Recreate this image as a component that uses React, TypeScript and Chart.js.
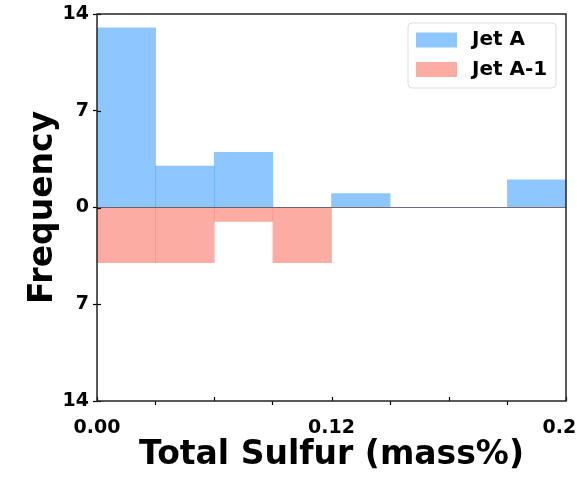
import React, { useEffect, useRef } from "react";
import { Chart, registerables } from "chart.js";

Chart.register(...registerables);

// Histogram bins (total sulfur, mass%)
const binCenters = [0.015, 0.045, 0.075, 0.105, 0.135, 0.165, 0.195, 0.225];
const jetA = [13, 3, 4, 0, 1, 0, 0, 2];
const jetA1 = [4, 4, 1, 4, 0, 0, 0, 0];
const seriesLabels = ["Jet A", "Jet A-1"];
const xTickValues = [0, 0.06, 0.12, 0.18, 0.24];
const xTickLabels = ["0.00", "", "0.12", "", "0.24"];
const yTickValues = [-14, -7, 0, 7, 14];

const BLUE = "rgba(30,144,255,0.5)";
const SALMON = "rgba(250,128,114,0.65)";
const FONT = "'DejaVu Sans', sans-serif";

const framePlugin = {
  id: "frame",
  afterDraw(chart: any) {
    const { ctx, chartArea } = chart;
    const { left, right, top, bottom } = chartArea;
    ctx.save();
    // inner tick marks
    ctx.strokeStyle = "#000";
    ctx.lineWidth = 1.2;
    const xs = chart.scales.x;
    xs.ticks.forEach((t: any) => {
      const px = Math.round(xs.getPixelForValue(t.value)) + 0.5;
      ctx.beginPath();
      ctx.moveTo(px, bottom);
      ctx.lineTo(px, bottom - 4);
      ctx.stroke();
    });
    const ys = chart.scales.y;
    ys.ticks.forEach((t: any) => {
      const py = Math.round(ys.getPixelForValue(t.value)) + 0.5;
      ctx.beginPath();
      ctx.moveTo(left, py);
      ctx.lineTo(left + 4, py);
      ctx.stroke();
    });
    // frame
    ctx.strokeStyle = "#222";
    ctx.lineWidth = 1.5;
    ctx.strokeRect(left, top, right - left, bottom - top);

    // legend
    const bx = right - 158;
    const by = top + 9;
    const bw = 148;
    const bh = 65;
    const r = 4;
    ctx.beginPath();
    ctx.moveTo(bx + r, by);
    ctx.lineTo(bx + bw - r, by);
    ctx.quadraticCurveTo(bx + bw, by, bx + bw, by + r);
    ctx.lineTo(bx + bw, by + bh - r);
    ctx.quadraticCurveTo(bx + bw, by + bh, bx + bw - r, by + bh);
    ctx.lineTo(bx + r, by + bh);
    ctx.quadraticCurveTo(bx, by + bh, bx, by + bh - r);
    ctx.lineTo(bx, by + r);
    ctx.quadraticCurveTo(bx, by, bx + r, by);
    ctx.closePath();
    ctx.fillStyle = "rgba(255,255,255,0.8)";
    ctx.fill();
    ctx.strokeStyle = "#dddddd";
    ctx.lineWidth = 1;
    ctx.stroke();
    ctx.font = `bold 20px ${FONT}`;
    ctx.textBaseline = "middle";
    ctx.textAlign = "left";
    chart.data.datasets.forEach((ds: any, i: number) => {
      const cy = by + 17 + i * 29.5;
      ctx.fillStyle = ds.backgroundColor;
      ctx.fillRect(bx + 8, cy - 7.5, 41, 15);
      ctx.fillStyle = "#000";
      ctx.fillText(ds.label, bx + 64, cy);
    });
    ctx.restore();
  },
};

export default function App() {
  const ref = useRef<HTMLCanvasElement>(null);
  useEffect(() => {
    document.body.style.margin = "0";
    const canvas = ref.current!;
    const chart = new Chart(canvas, {
      type: "bar",
      data: {
        datasets: [
          {
            label: seriesLabels[0],
            data: binCenters.map((x, i) => ({ x, y: jetA[i] })),
            backgroundColor: BLUE,
            borderWidth: 0,
            grouped: false,
            barPercentage: 1,
            categoryPercentage: 1,
          },
          {
            label: seriesLabels[1],
            data: binCenters.map((x, i) => ({ x, y: -jetA1[i] })),
            backgroundColor: SALMON,
            borderWidth: 0,
            grouped: false,
            barPercentage: 1,
            categoryPercentage: 1,
          },
        ] as any,
      },
      options: {
        responsive: false,
        animation: false,
        devicePixelRatio: 1,
        layout: { padding: { top: 14, right: 11, left: 0, bottom: 0 }, autoPadding: false } as any,
        plugins: { legend: { display: false }, tooltip: { enabled: false } },
        scales: {
          x: {
            type: "linear",
            min: 0,
            max: 0.24,
            offset: false,
            afterFit: (s: any) => {
              s.height = 76;
              s.paddingLeft = 0;
              s.paddingRight = 0;
            },
            afterBuildTicks: (s: any) => {
              s.ticks = xTickValues.map((v) => ({ value: v }));
            },
            ticks: {
              autoSkip: false,
              maxRotation: 0,
              padding: 12,
              color: "#000",
              font: { family: FONT, size: 19, weight: "bold" },
              callback: (_v: any, i: number) => xTickLabels[i],
            },
            grid: { display: true, drawOnChartArea: false, tickLength: 4, tickColor: "#000", tickWidth: 1.2 },
            border: { display: false },
            title: {
              display: true,
              text: "Total Sulfur (mass%)",
              color: "#000",
              font: { family: FONT, size: 33, weight: "bold" },
              padding: { top: 0, bottom: 2 },
            },
          },
          y: {
            type: "linear",
            min: -14,
            max: 14,
            afterFit: (s: any) => {
              s.width = 97;
              s.paddingTop = 0;
              s.paddingBottom = 0;
            },
            afterBuildTicks: (s: any) => {
              s.ticks = yTickValues.map((v) => ({ value: v }));
            },
            ticks: {
              padding: 4,
              color: "#000",
              font: { family: FONT, size: 19, weight: "bold" },
              callback: (v: any) => String(Math.abs(Number(v))),
            },
            grid: {
              display: true,
              drawOnChartArea: true,
              tickLength: 4,
              tickColor: "#000",
              tickWidth: 1.2,
              lineWidth: 1,
              color: (c: any) => (c.tick && c.tick.value === 0 ? "#555" : "rgba(0,0,0,0)"),
            },
            border: { display: false },
            title: {
              display: true,
              text: "Frequency",
              color: "#000",
              font: { family: FONT, size: 33, weight: "bold" },
              padding: { top: 24, bottom: 0 },
            },
          },
        },
      },
      plugins: [framePlugin],
    });
    return () => chart.destroy();
  }, []);
  return (
    <div style={{ position: "absolute", left: 0, top: 0, width: 577, height: 477 }}>
      <canvas ref={ref} width={577} height={477} />
    </div>
  );
}
